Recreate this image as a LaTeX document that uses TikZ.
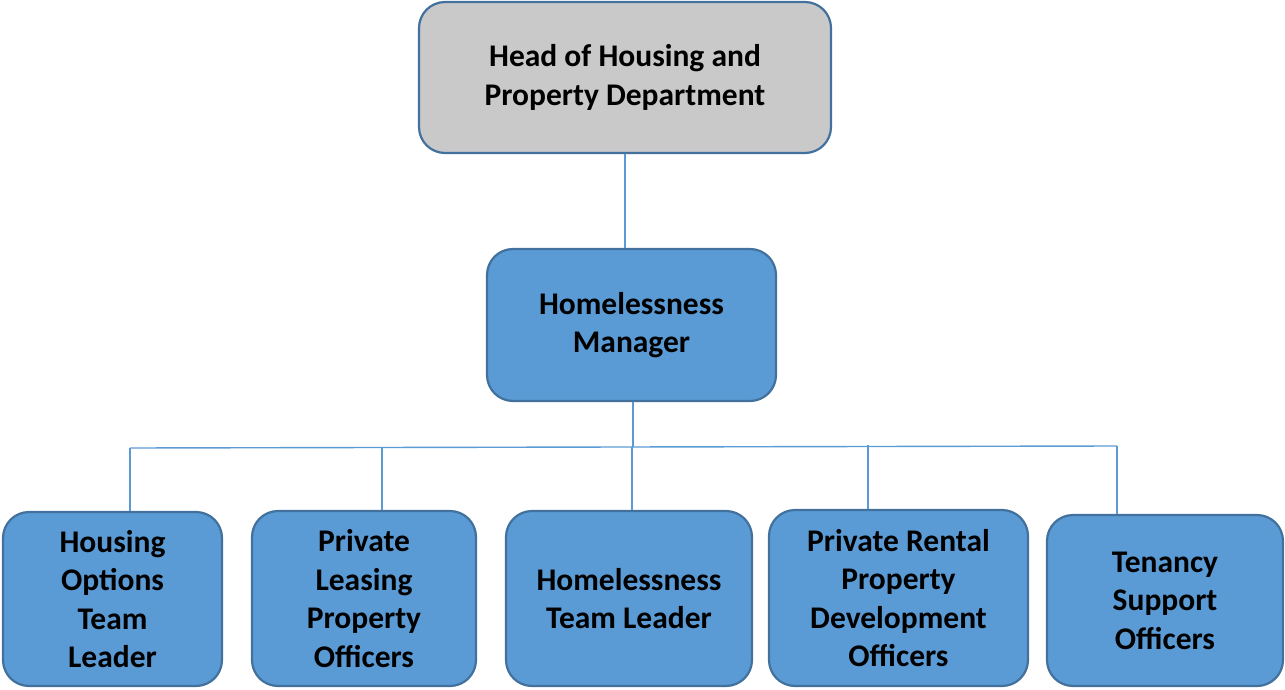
\documentclass[tikz,border=0pt]{standalone}
\usepackage{fontspec}
\setmainfont{Carlito}
\definecolor{boxblue}{HTML}{5B9BD5}
\definecolor{edgeblue}{HTML}{41719C}
\definecolor{headgray}{HTML}{C9C9C9}
\definecolor{lineblue}{HTML}{5B9BD5}
\begin{document}
\begin{tikzpicture}[x=1pt,y=-1pt,
  orgbox/.style={draw=edgeblue,line width=2.2pt,rounded corners=26pt,fill=boxblue,
    inner sep=0pt,align=center,font=\bfseries\fontsize{31.5}{38.5}\selectfont,text=black},
  link/.style={draw=lineblue,line width=1.4pt}]
\useasboundingbox (0,0) rectangle (1285,690);
% head of department
\node[orgbox,fill=headgray,minimum width=412pt,minimum height=151pt] (head) at (625,77.5)
  {Head of Housing and\\Property Department};
% manager
\node[orgbox,minimum width=289pt,minimum height=152pt] (mgr) at (631.5,325)
  {Homelessness\\Manager};
% team boxes
\node[orgbox,minimum width=219pt,minimum height=174pt] (hot) at (112.5,599)
  {Housing\\Options\\Team\\Leader};
\node[orgbox,minimum width=224pt,minimum height=175pt] (plp) at (364,598.5)
  {Private\\Leasing\\Property\\Officers};
\node[orgbox,minimum width=246pt,minimum height=175pt] (htl) at (629,598.5)
  {Homelessness\\Team Leader};
\node[orgbox,minimum width=259pt,minimum height=176pt] (prp) at (898.5,598)
  {Private Rental\\Property\\Development\\Officers};
\node[orgbox,minimum width=236pt,minimum height=171pt] (tso) at (1165,600.5)
  {Tenancy\\Support\\Officers};
% bus taps
\coordinate (bus) at (633,447);
\coordinate (t1) at (130,448);
\coordinate (t2) at (382,447.5);
\coordinate (t3) at (632,447);
\coordinate (t4) at (868,445);
\coordinate (t5) at (1117,446);
% connectors
\draw[link] (head.south) -- (head.south |- mgr.north);
\draw[link] (bus |- mgr.south) -- (bus);
\draw[link] (t1) -- (t5);
\draw[link] (t1) -- (t1 |- hot.north);
\draw[link] (t2) -- (t2 |- plp.north);
\draw[link] (t3) -- (t3 |- htl.north);
\draw[link] (t4) -- (t4 |- prp.north);
\draw[link] (t5) -- (t5 |- tso.north);
\end{tikzpicture}
\end{document}
